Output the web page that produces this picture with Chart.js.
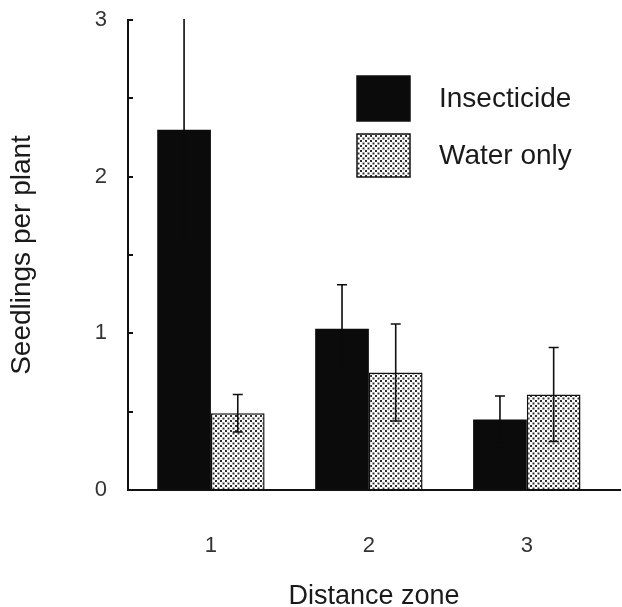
<!DOCTYPE html>
<html>
<head>
<meta charset="utf-8">
<script src="https://cdn.jsdelivr.net/npm/chart.js@4/dist/chart.umd.min.js"></script>
<style>
  html, body { margin: 0; padding: 0; background: #fff; }
  #wrap { width: 622px; height: 607px; }
</style>
</head>
<body>
<div id="wrap"><canvas id="c" width="622" height="607"></canvas></div>
<script>
// ---- data ----
const zones = [1, 2, 3];
const zoneLabels = ['1', '2', '3'];
const insecticide = [2.30, 1.03, 0.45];
const insecticideErr = [0.72, 0.28, 0.15];
const waterOnly = [0.49, 0.75, 0.61];
const waterOnlyErr = [0.12, 0.31, 0.30];
const yTicks = [0, 1, 2, 3];

const FONT = '"Liberation Sans", Arial, sans-serif';

// ---- stipple pattern ----
function makeStipple() {
  const t = document.createElement('canvas');
  t.width = 5; t.height = 5;
  const g = t.getContext('2d');
  g.fillStyle = '#ffffff';
  g.fillRect(0, 0, 5, 5);
  g.fillStyle = '#2e2e2e';
  g.fillRect(0, 0, 2, 2);
  g.fillRect(2.5, 2.5, 2, 2);
  return document.getElementById('c').getContext('2d').createPattern(t, 'repeat');
}
const stipple = makeStipple();

const errorBars = {
  id: 'errorBars',
  afterDatasetsDraw(chart) {
    const ctx = chart.ctx;
    const ys = chart.scales.y;
    const a = chart.chartArea;
    ctx.save();
    ctx.beginPath();
    ctx.rect(a.left, a.top - 1, a.right - a.left, a.bottom - a.top + 2);
    ctx.clip();
    ctx.lineWidth = 1.6;
    chart.data.datasets.forEach((ds, di) => {
      const meta = chart.getDatasetMeta(di);
      ctx.strokeStyle = ds.errColor;
      meta.data.forEach((el, i) => {
        const v = ds.data[i].y, e = ds.err[i];
        const yt = ys.getPixelForValue(v + e);
        const yb = ys.getPixelForValue(v - e);
        ctx.beginPath();
        ctx.moveTo(el.x, yt); ctx.lineTo(el.x, yb);
        ctx.moveTo(el.x - 5, yt); ctx.lineTo(el.x + 5, yt);
        ctx.moveTo(el.x - 5, yb); ctx.lineTo(el.x + 5, yb);
        ctx.stroke();
      });
    });
    ctx.restore();
  }
};

const boxLegend = {
  id: 'boxLegend',
  afterDraw(chart) {
    const ctx = chart.ctx;
    const rows = [{y: 76, h: 45}, {y: 134, h: 43}];
    ctx.save();
    chart.data.datasets.forEach((ds, i) => {
      const r = rows[i];
      ctx.fillStyle = ds.backgroundColor;
      ctx.fillRect(357, r.y, 53, r.h);
      ctx.strokeStyle = '#111';
      ctx.lineWidth = 1.5;
      ctx.strokeRect(357, r.y, 53, r.h);
      ctx.fillStyle = '#1a1a1a';
      ctx.font = '28px ' + FONT;
      ctx.textBaseline = 'middle';
      ctx.textAlign = 'left';
      ctx.fillText(ds.label, 439, r.y + r.h / 2 + 1);
    });
    ctx.restore();
  }
};

new Chart(document.getElementById('c'), {
  type: 'bar',
  data: {
    datasets: [
      { label: 'Insecticide', data: zones.map((z, i) => ({x: z, y: insecticide[i]})), err: insecticideErr,
        errColor: '#0b0b0b', backgroundColor: '#0b0b0b', borderColor: '#0b0b0b', borderWidth: 0 },
      { label: 'Water only', data: zones.map((z, i) => ({x: z, y: waterOnly[i]})), err: waterOnlyErr,
        errColor: '#111', backgroundColor: stipple, borderColor: '#111', borderWidth: 1.5, borderSkipped: 'bottom' }
    ]
  },
  options: {
    responsive: false,
    animation: false,
    events: [],
    barPercentage: 1.0,
    categoryPercentage: 0.68,
    layout: { padding: { top: 20, right: 2, left: 0, bottom: 0 } },
    plugins: { legend: { display: false }, tooltip: { enabled: false } },
    scales: {
      x: {
        type: 'linear', min: 0.475, max: 3.59, offset: false,
        afterBuildTicks: s => { s.ticks = zones.map(v => ({value: v})); },
        afterFit: s => { s.height = 117; s.paddingLeft = 0; s.paddingRight = 0; },
        grid: { display: false, drawTicks: false, offset: false },
        border: { display: true, color: '#111', width: 2 },
        ticks: { padding: 43, color: '#333', font: { size: 22, family: FONT },
                 callback: (v) => zoneLabels[zones.indexOf(v)] ?? '' , maxRotation: 0, autoSkip: false },
        title: { display: true, text: 'Distance zone', color: '#1a1a1a',
                 font: { size: 27, family: FONT }, padding: { top: 0, bottom: -6 } }
      },
      y: {
        min: 0, max: 3,
        afterBuildTicks: s => { const t = []; for (let v = 0; v <= 3.0001; v += 0.5) t.push({value: Math.round(v * 2) / 2}); s.ticks = t; },
        afterFit: s => { s.width = 128; s.paddingTop = 0; s.paddingBottom = 0; },
        grid: { drawOnChartArea: false, drawTicks: true, tickLength: -5, color: '#111', lineWidth: 2 },
        border: { display: true, color: '#111', width: 2 },
        ticks: { padding: 26, color: '#333', font: { size: 22, family: FONT },
                 callback: (v) => yTicks.includes(v) ? String(v) : '' },
        title: { display: true, text: 'Seedlings per plant', color: '#1a1a1a',
                 font: { size: 28, family: FONT }, padding: { top: 5, bottom: 0 } }
      }
    }
  },
  plugins: [errorBars, boxLegend]
});
</script>
</body>
</html>
